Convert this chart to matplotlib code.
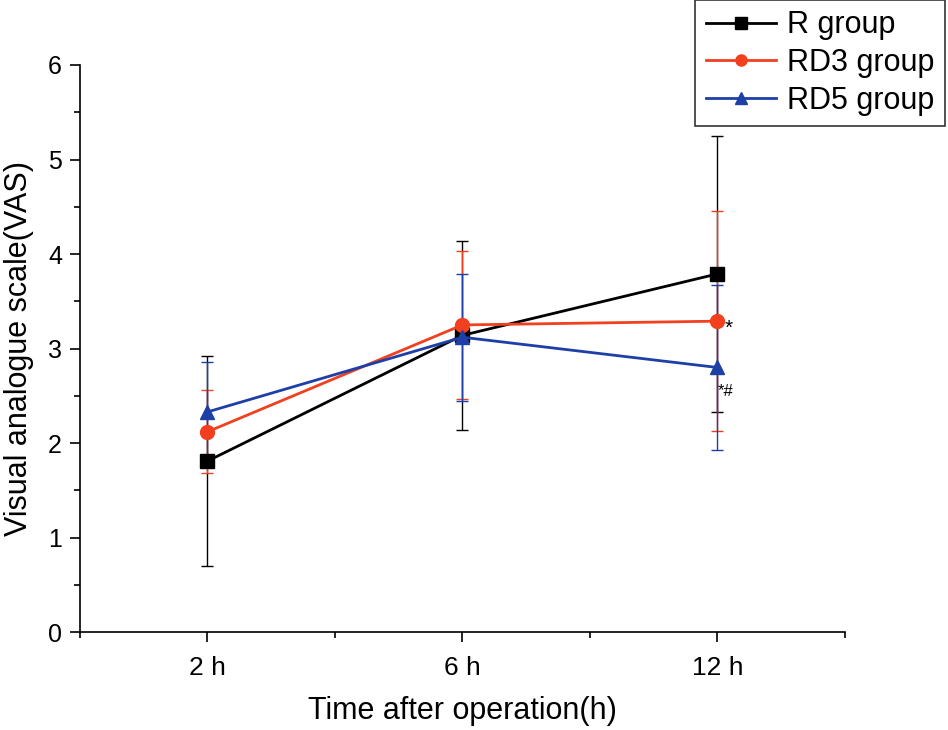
import matplotlib
matplotlib.use("Agg")
import matplotlib.pyplot as plt
from matplotlib.ticker import MultipleLocator

plt.rcParams['font.family'] = ['Liberation Sans', 'DejaVu Sans']

# --- data ---
time_labels = ["2 h", "6 h", "12 h"]
x_pos = [1, 2, 3]

r_mean = [1.81, 3.14, 3.79]
r_sd = [1.11, 1.00, 1.46]

rd3_mean = [2.12, 3.25, 3.29]
rd3_sd = [0.44, 0.78, 1.16]

rd5_mean = [2.33, 3.12, 2.80]
rd5_sd = [0.53, 0.67, 0.87]

groups = [
    ("R group", r_mean, r_sd, "#000000", "s"),
    ("RD3 group", rd3_mean, rd3_sd, "#f2401f", "o"),
    ("RD5 group", rd5_mean, rd5_sd, "#1f3fa8", "^"),
]

fig = plt.figure(figsize=(9.48, 7.30), dpi=100)
ax = fig.add_axes([0.0844, 0.134, 0.8068, 0.777])

handles = []
for name, mean, sd, col, mk in groups:
    cont = ax.errorbar(x_pos, mean, yerr=sd, color=col, marker=mk, markersize=10,
                       linewidth=2.0, elinewidth=1.0, capsize=4.5, capthick=1.0,
                       label=name)
    handles.append(cont[0])

# significance marks at 12 h
ax.text(3.03, rd3_mean[2] - 0.08, "*", fontsize=15, ha="left", va="center")
ax.text(3.0, rd5_mean[2] - 0.25, "*#", fontsize=12, ha="left", va="center")

ax.set_xlim(0.5, 3.5)
ax.set_ylim(0, 6)
ax.set_xticks(x_pos)
ax.set_xticklabels(time_labels, family=['Liberation Sans Narrow', 'Liberation Sans'])
ax.set_xticks([0.5, 1.5, 2.5, 3.5], minor=True)
ax.yaxis.set_major_locator(MultipleLocator(1))
ax.yaxis.set_minor_locator(MultipleLocator(0.5))
ax.tick_params(which="major", direction="out", length=7, width=1.2)
ax.tick_params(which="minor", direction="out", length=4, width=1.2)
ax.tick_params(axis="y", labelsize=18, pad=6)
ax.tick_params(axis="x", labelsize=19, pad=10)

for side in ["top", "right"]:
    ax.spines[side].set_visible(False)
for side in ["left", "bottom"]:
    ax.spines[side].set_linewidth(1.2)

ax.set_xlabel("Time after operation(h)", fontsize=22, labelpad=12)
ax.set_ylabel("Visual analogue scale(VAS)", fontsize=22, labelpad=10)

leg = ax.legend(handles, [g[0] for g in groups], loc="upper right",
                bbox_to_anchor=(1.131, 1.115), fontsize=22,
                frameon=True, fancybox=False, edgecolor="black",
                handlelength=2.3, labelspacing=0.25, borderpad=0.35,
                handletextpad=0.35, borderaxespad=0, markerscale=0.8)
leg.get_frame().set_linewidth(1.2)

fig.savefig("out.png", dpi=100)
